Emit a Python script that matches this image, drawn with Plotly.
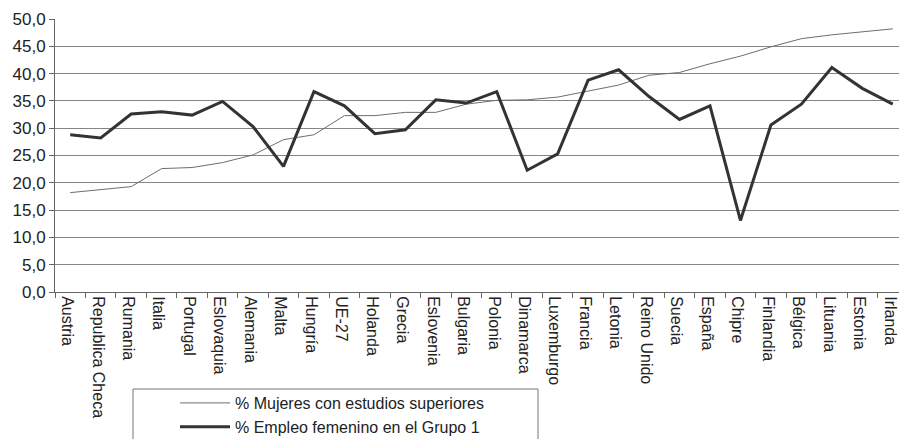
import plotly.graph_objects as go

categories = ["Austria", "Republica Checa", "Rumania", "Italia", "Portugal", "Eslovaquia",
              "Alemania", "Malta", "Hungría", "UE-27", "Holanda", "Grecia", "Eslovenia",
              "Bulgaria", "Polonia", "Dinamarca", "Luxemburgo", "Francia", "Letonia",
              "Reino Unido", "Suecia", "España", "Chipre", "Finlandia", "Bélgica",
              "Lituania", "Estonia", "Irlanda"]

mujeres_estudios = [18.2, 18.7, 19.3, 22.6, 22.8, 23.7, 25.1, 27.9, 28.8, 32.3, 32.3, 32.9,
                    32.9, 34.4, 35.1, 35.2, 35.7, 36.8, 37.9, 39.7, 40.2, 41.8, 43.2, 44.9,
                    46.4, 47.1, 47.7, 48.2]

empleo_grupo1 = [28.8, 28.2, 32.6, 33.0, 32.4, 34.9, 30.3, 23.0, 36.7, 34.1, 29.0, 29.7,
                 35.2, 34.6, 36.7, 22.3, 25.3, 38.8, 40.7, 35.8, 31.6, 34.1, 13.1, 30.6,
                 34.4, 41.1, 37.3, 34.4]

name1 = "% Mujeres con estudios superiores"
name2 = "% Empleo femenino en el Grupo 1"

W, H = 899, 439
ML, MR, MT, MB = 55, 0, 19, 147
PW = W - ML - MR
PH = H - MT - MB

def px_x(p):
    return (p - ML) / PW

def px_y(p):
    return (H - MB - p) / PH

fig = go.Figure()
fig.add_trace(go.Scatter(x=categories, y=mujeres_estudios, mode="lines", name=name1,
                         line=dict(color="#6e6e6e", width=1), legendgroup="a"))
fig.add_trace(go.Scatter(x=categories, y=empleo_grupo1, mode="lines", name=name2,
                         line=dict(color="#333333", width=3), legendgroup="b"))

font_family = "Liberation Sans, Arial, sans-serif"

fig.update_layout(
    width=W, height=H,
    margin=dict(l=ML, r=MR, t=MT, b=MB, autoexpand=False),
    paper_bgcolor="white", plot_bgcolor="white",
    separators=", ",
    font=dict(family=font_family, color="#222222", size=16),
    showlegend=True,
    legend=dict(x=px_x(175), y=px_y(386), xanchor="left", yanchor="top",
                bgcolor="rgba(0,0,0,0)", borderwidth=0, itemwidth=50,
                font=dict(size=16, family=font_family, color="#222222"),
                tracegroupgap=17, traceorder="normal"),
    xaxis=dict(type="category", range=[-0.5, 27.5 - 9 / 30.48],
               showgrid=False, showline=True, linecolor="#666666", linewidth=1,
               ticks="outside", ticklen=5, tickcolor="#666666", tickson="boundaries",
               tickangle=90, ticklabelshift=-3,
               tickfont=dict(size=16, family=font_family, color="#222222")),
    yaxis=dict(range=[0, 50], dtick=5, tickformat=".1f",
               showgrid=True, gridcolor="#858585", gridwidth=1,
               showline=True, linecolor="#666666", linewidth=1,
               ticks="outside", ticklen=5, tickcolor="#666666", zeroline=False,
               tickfont=dict(size=17, family=font_family, color="#222222")),
    shapes=[dict(type="rect", xref="paper", yref="paper",
                 x0=px_x(133), x1=px_x(538), y0=px_y(389), y1=px_y(470),
                 line=dict(color="#777777", width=1), fillcolor="rgba(0,0,0,0)")],
)

fig.write_html("out.html", config={"displayModeBar": False},
               post_script="document.body.style.margin='0';document.body.style.overflow='hidden';")
